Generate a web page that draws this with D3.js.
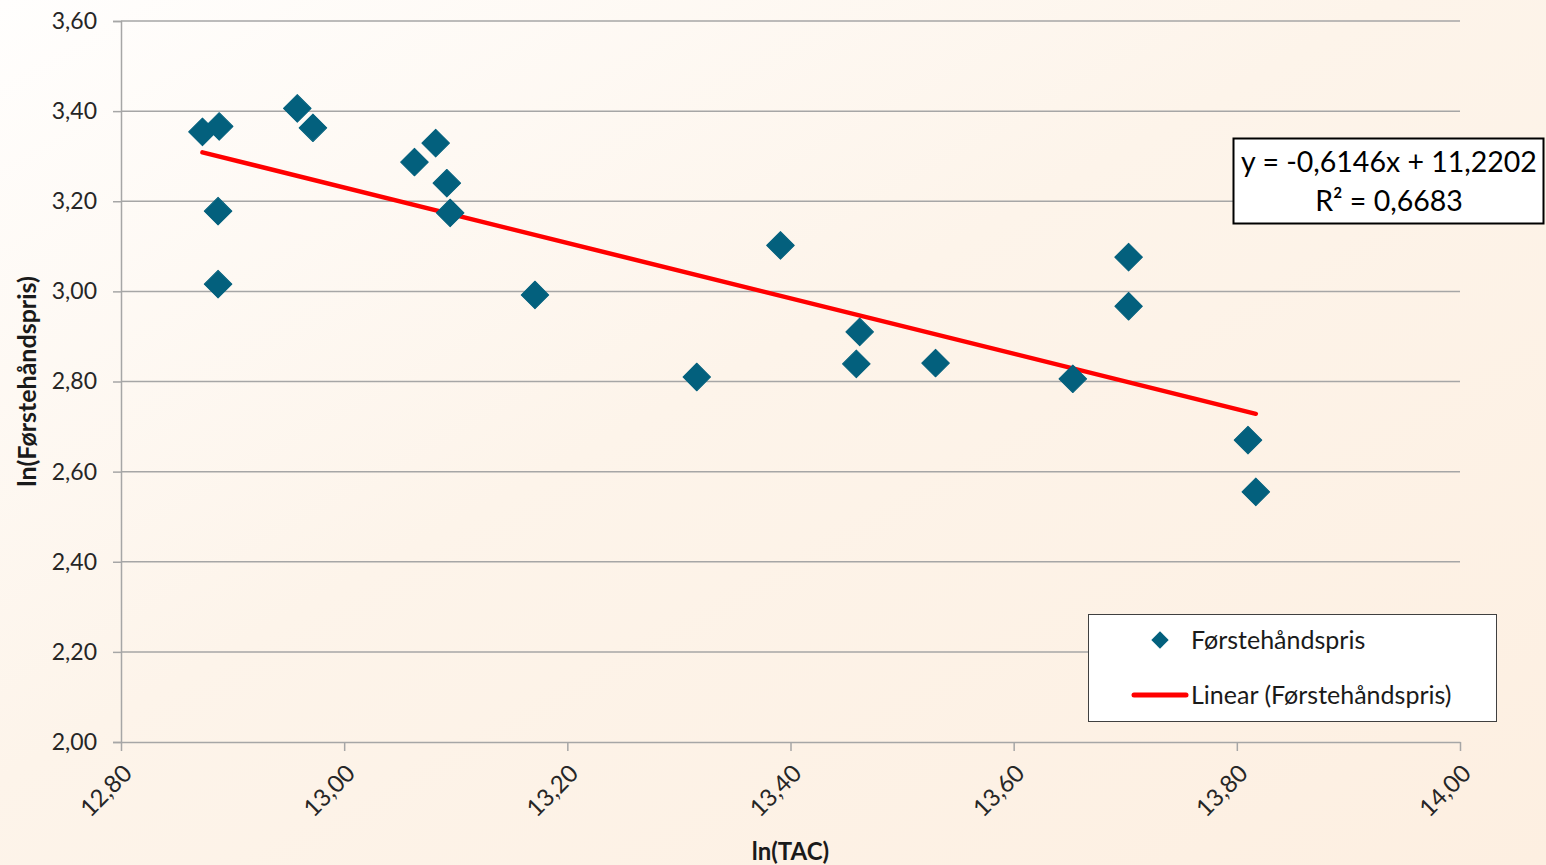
<!DOCTYPE html>
<html>
<head>
<meta charset="utf-8">
<script src="https://cdn.jsdelivr.net/npm/d3@7"></script>
<style>
  html, body { margin: 0; padding: 0; }
  body { width: 1546px; height: 865px; overflow: hidden; font-family: Lato, "Open Sans", sans-serif; }
</style>
</head>
<body>
<div class="chart"></div>
<script>
// data
const lnTAC = [12.873, 12.888, 12.887, 12.887, 12.958, 12.972, 13.063, 13.082, 13.092, 13.095,
               13.171, 13.316, 13.391, 13.462, 13.459, 13.530, 13.653, 13.703, 13.703, 13.810, 13.817];
const lnPris = [3.354, 3.366, 3.178, 3.016, 3.406, 3.363, 3.287, 3.329, 3.240, 3.174,
                2.992, 2.810, 3.102, 2.910, 2.839, 2.841, 2.806, 3.076, 2.967, 2.670, 2.555];
const xTicks = [12.8, 13.0, 13.2, 13.4, 13.6, 13.8, 14.0];
const yTicks = [2.0, 2.2, 2.4, 2.6, 2.8, 3.0, 3.2, 3.4, 3.6];
const trend = { slope: -0.6146, intercept: 11.2202, r2: 0.6683 };
const seriesName = "Førstehåndspris";

function init(){
    const w = 1546, h = 865;
    const left = 121, right = 1460, top = 21, bottom = 742;

    const fmt = v => d3.format(".2f")(v).replace(".", ",");

    const svg = d3.select(".chart").append("svg").attr("width", w).attr("height", h);

    // background gradient
    const grad = svg.append("defs").append("linearGradient")
      .attr("id", "bg").attr("x1", "0").attr("y1", "0").attr("x2", "1").attr("y2", "1");
    grad.append("stop").attr("offset", "0%").attr("stop-color", "#fffefd");
    grad.append("stop").attr("offset", "45%").attr("stop-color", "#fdf4ea");
    grad.append("stop").attr("offset", "100%").attr("stop-color", "#fdefe1");
    svg.append("rect").attr("width", w).attr("height", h).attr("fill", "url(#bg)");

    const x = d3.scaleLinear().domain([12.8, 14.0]).range([left, right]);
    const y = d3.scaleLinear().domain([2.0, 3.6]).range([bottom, top]);

    // gridlines
    svg.append("g")
      .selectAll("line")
      .data(yTicks.slice(1))
      .join("line")
      .attr("x1", left).attr("x2", right)
      .attr("y1", d => y(d)).attr("y2", d => y(d))
      .attr("stroke", "#a6a6a6").attr("stroke-width", 1.5);

    // y axis
    const yAxis = svg.append("g")
      .attr("transform", `translate(${left},0)`)
      .call(d3.axisLeft(y).tickValues(yTicks).tickFormat(fmt).tickSize(8).tickPadding(16));
    yAxis.select(".domain").attr("stroke", "#a6a6a6").attr("stroke-width", 1.5);
    yAxis.selectAll(".tick line").attr("stroke", "#a6a6a6").attr("stroke-width", 1.5);
    yAxis.selectAll(".tick text").attr("font-size", 23).attr("fill", "#262626")
      .attr("font-family", "Lato, sans-serif");

    // x axis
    const xAxis = svg.append("g")
      .attr("transform", `translate(0,${bottom})`)
      .call(d3.axisBottom(x).tickValues(xTicks).tickFormat(fmt).tickSize(9).tickSizeOuter(0));
    xAxis.select(".domain").attr("stroke", "#a6a6a6").attr("stroke-width", 1.5);
    xAxis.selectAll(".tick line").attr("stroke", "#a6a6a6").attr("stroke-width", 1.5);
    xAxis.selectAll(".tick text")
      .attr("font-size", 24).attr("fill", "#262626")
      .attr("font-family", "Lato, sans-serif")
      .attr("text-anchor", "end")
      .attr("dy", null).attr("y", 0)
      .attr("transform", "translate(12,33) rotate(-45)");

    // axis titles
    svg.append("text")
      .attr("x", x(13.4)).attr("y", 860)
      .attr("text-anchor", "middle").attr("font-weight", "bold")
      .attr("font-size", 24).attr("fill", "#1a1a1a")
      .text("ln(TAC)");
    svg.append("text")
      .attr("transform", `translate(36,${(top + bottom) / 2}) rotate(-90)`)
      .attr("text-anchor", "middle").attr("font-weight", "bold")
      .attr("font-size", 25).attr("fill", "#1a1a1a")
      .text("ln(" + seriesName + ")");

    // trend line
    const x0 = d3.min(lnTAC), x1 = d3.max(lnTAC);
    svg.append("line")
      .attr("x1", x(x0)).attr("y1", y(trend.slope * x0 + trend.intercept))
      .attr("x2", x(x1)).attr("y2", y(trend.slope * x1 + trend.intercept))
      .attr("stroke", "#ff0000").attr("stroke-width", 4.5).attr("stroke-linecap", "round");

    // points (diamonds)
    const diamond = d3.symbol().type(d3.symbolSquare).size(380);
    svg.append("g")
      .selectAll("path")
      .data(lnTAC.map((d, i) => [d, lnPris[i]]))
      .join("path")
      .attr("d", diamond)
      .attr("transform", d => `translate(${x(d[0])},${y(d[1])}) rotate(45)`)
      .attr("fill", "#03607d")
      .attr("stroke", "#03607d").attr("stroke-width", 1).attr("stroke-linejoin", "round");

    // equation box
    const eq = svg.append("g");
    eq.append("rect").attr("x", 1233.5).attr("y", 138.5).attr("width", 310).attr("height", 85)
      .attr("fill", "#ffffff").attr("stroke", "#000000").attr("stroke-width", 2);
    eq.append("text").attr("x", 1389).attr("y", 172).attr("text-anchor", "middle")
      .attr("font-size", 28.5).attr("fill", "#000")
      .text(`y = ${String(trend.slope).replace(".", ",")}x + ${String(trend.intercept).replace(".", ",")}`);
    eq.append("text").attr("x", 1389).attr("y", 211).attr("text-anchor", "middle")
      .attr("font-size", 28.5).attr("fill", "#000")
      .text(`R² = ${String(trend.r2).replace(".", ",")}`);

    // legend
    const lg = svg.append("g");
    lg.append("rect").attr("x", 1088.5).attr("y", 614.5).attr("width", 408).attr("height", 107)
      .attr("fill", "#ffffff").attr("stroke", "#404040").attr("stroke-width", 1);
    lg.append("path").attr("d", d3.symbol().type(d3.symbolSquare).size(150))
      .attr("transform", "translate(1160,640) rotate(45)")
      .attr("fill", "#03607d");
    lg.append("text").attr("x", 1191).attr("y", 649).attr("font-size", 25).attr("fill", "#1a1a1a")
      .text(seriesName);
    lg.append("line").attr("x1", 1134).attr("x2", 1186).attr("y1", 695).attr("y2", 695)
      .attr("stroke", "#ff0000").attr("stroke-width", 5).attr("stroke-linecap", "round");
    lg.append("text").attr("x", 1191).attr("y", 704).attr("font-size", 25).attr("fill", "#1a1a1a")
      .text("Linear (" + seriesName + ")");
}
window.onload = init;
</script>
</body>
</html>
